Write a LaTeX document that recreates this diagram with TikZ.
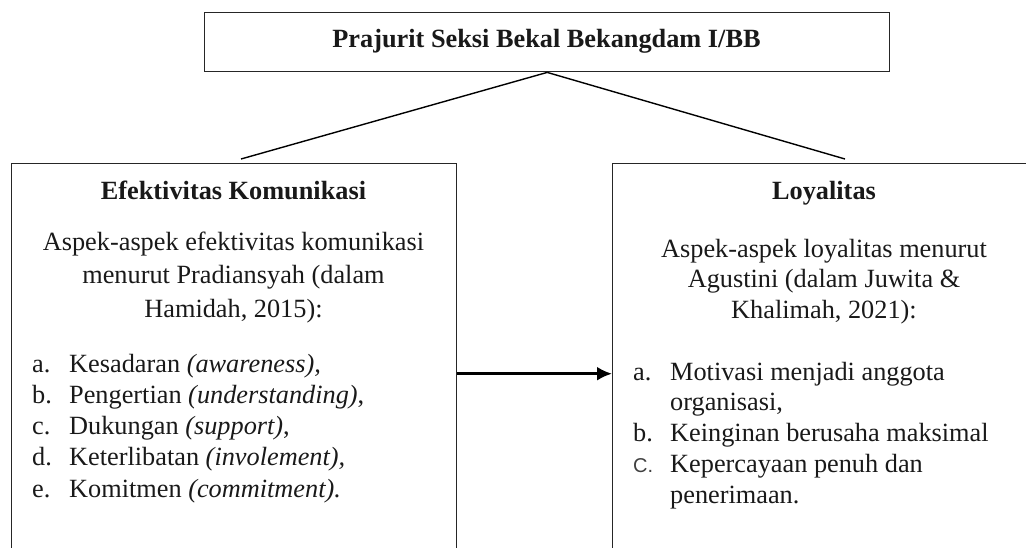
\documentclass[tikz,border=0pt]{standalone}
\usepackage{fontspec}
\setmainfont{Liberation Serif}
\newfontfamily\labelsans{Liberation Sans}
\usetikzlibrary{positioning,arrows.meta}
\tikzset{
  frame/.style={draw=black!85, line width=1.4pt, inner sep=0pt, anchor=north west},
  conn/.style={draw=black, line width=1.4pt},
  heading/.style={font=\fontsize{26.3}{30}\selectfont\bfseries, inner sep=0pt, anchor=base},
  para/.style={align=center, inner sep=0pt, anchor=base},
  items/.style={align=left, inner sep=0pt, anchor=base west},
}
\newcommand{\itm}[1]{\makebox[37pt][l]{#1}}

\begin{document}
\begin{tikzpicture}[x=1pt,y=-1pt,font=\fontsize{26.3}{31.3}\selectfont,text=black!90]
\useasboundingbox (0,0) rectangle (1026,547);
\clip (0,0) rectangle (1026,547);
%Boxes
\node[frame, minimum width=685pt, minimum height=59pt] (top) at (204,12) {};
\node[frame, minimum width=445pt, minimum height=420pt] (lbox) at (11,163) {};
\node[frame, minimum width=424pt, minimum height=420pt] (rbox) at (612,163) {};

%Titles
\node[heading] (ttl) at (546.5,47) {Prajurit Seksi Bekal Bekangdam I/BB};
\node[heading] (efk) at (233.5,199) {Efektivitas Komunikasi};
\node[heading] (loy) at (824,199) {Loyalitas};

%Left box text (base = last line)
\node[para, font=\fontsize{26.3}{33.5}\selectfont] (laspek) at (233.5,317)
  {Aspek-aspek efektivitas komunikasi\\ menurut Pradiansyah (dalam\\ Hamidah, 2015):};
\node[items, font=\fontsize{26.3}{31.25}\selectfont] (llist) at (32,497)
  {\itm{a.}Kesadaran \textit{(awareness),}\\
   \itm{b.}Pengertian \textit{(understanding)},\\
   \itm{c.}Dukungan \textit{(support)},\\
   \itm{d.}Keterlibatan \textit{(involement),}\\
   \itm{e.}Komitmen \textit{(commitment).}};

%Right box text
\node[para, font=\fontsize{26.3}{30.5}\selectfont] (raspek) at (824,318)
  {Aspek-aspek loyalitas menurut\\ Agustini (dalam Juwita \&\\ Khalimah, 2021):};
\node[items, font=\fontsize{26.3}{30.75}\selectfont] (rlist) at (633,503)
  {\itm{a.}Motivasi menjadi anggota\\
   \itm{}organisasi,\\
   \itm{b.}Keinginan berusaha maksimal\\
   \itm{\labelsans\fontsize{20}{20}\selectfont\color{black!75}C.}Kepercayaan penuh dan\\
   \itm{}penerimaan.};

%Connectors
\coordinate (lend) at (241,159);
\coordinate (rend) at (845,159);
\draw[conn] (top.south) -- (lend);
\draw[conn] (top.south) -- (rend);
\draw[conn, line width=2.6pt, -{Latex[length=15pt,width=14pt]}] (lbox.east) -- (rbox.west);
\end{tikzpicture}
\end{document}
